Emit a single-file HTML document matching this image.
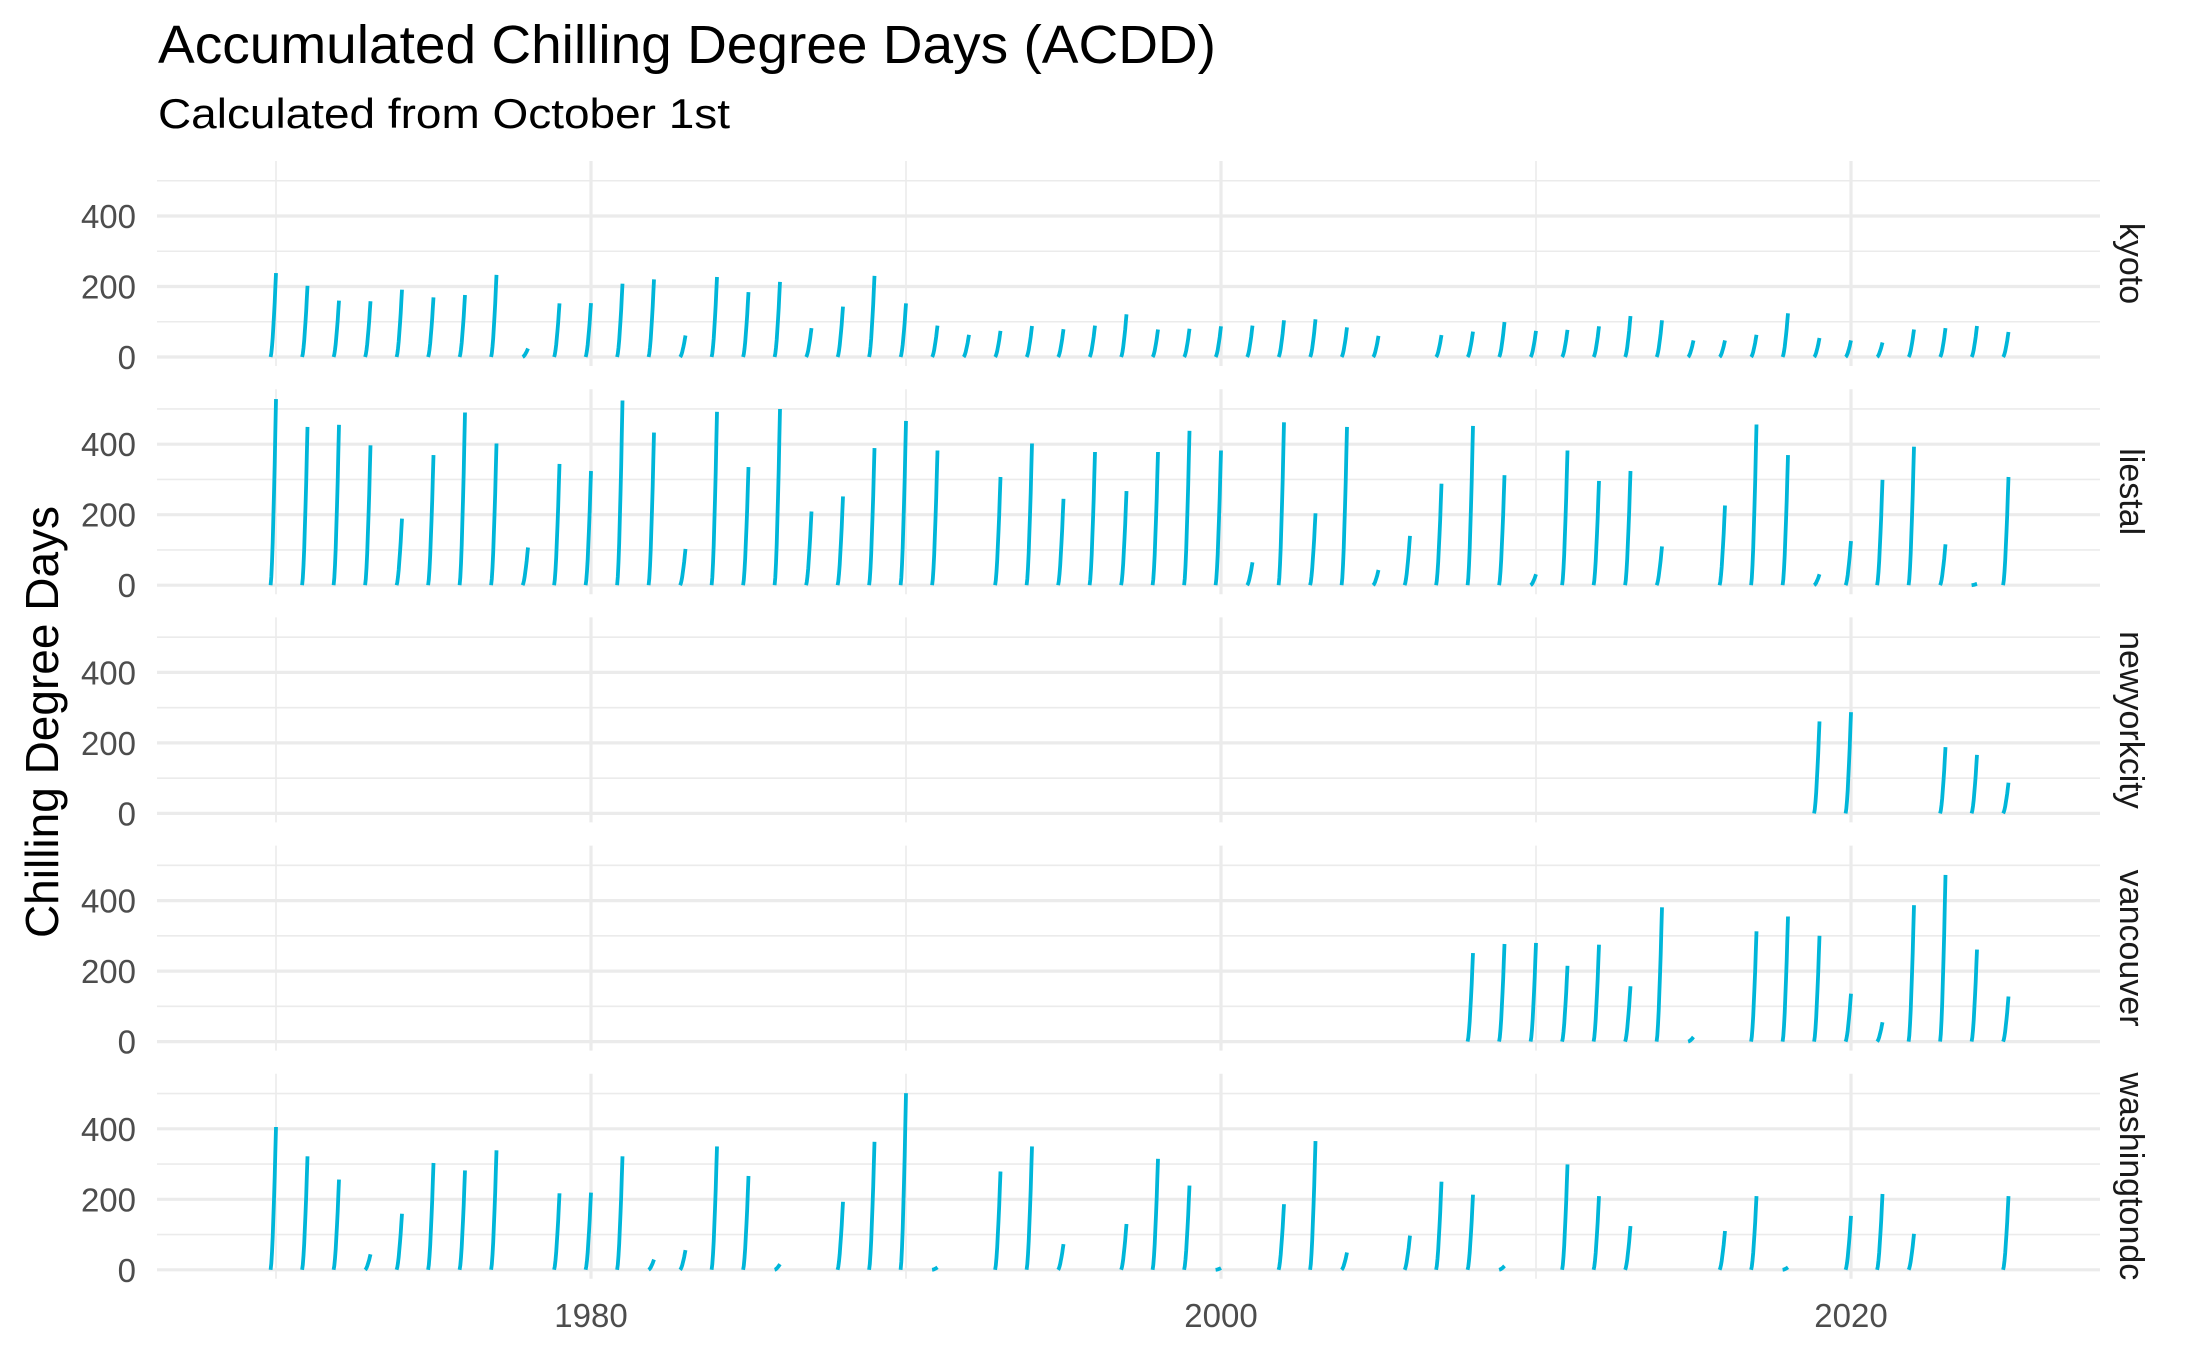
<!DOCTYPE html>
<html><head><meta charset="utf-8"><style>
html,body{margin:0;padding:0;background:#fff;}
svg{display:block;font-family:"Liberation Sans",Arial,sans-serif;}
</style></head><body>
<svg id="chart" width="2193" height="1356" viewBox="0 0 2193 1356" xmlns="http://www.w3.org/2000/svg">
<text x="158" y="63" font-size="54" textLength="1058" lengthAdjust="spacingAndGlyphs" fill="#000">Accumulated Chilling Degree Days (ACDD)</text>
<text x="158" y="128" font-size="42" textLength="572" lengthAdjust="spacingAndGlyphs" fill="#000">Calculated from October 1st</text>
<text transform="translate(58,722) rotate(-90)" text-anchor="middle" font-size="46" fill="#000">Chilling Degree Days</text>
<g id="panels"></g>
</svg>
<script>
const cities = ["kyoto","liestal","newyorkcity","vancouver","washingtondc"];
const kyotoYears = [1970,1971,1972,1973,1974,1975,1976,1977,1978,1979,1980,1981,1982,1983,1984,1985,1986,1987,1988,1989,1990,1991,1992,1993,1994,1995,1996,1997,1998,1999,2000,2001,2002,2003,2004,2005,2007,2008,2009,2010,2011,2012,2013,2014,2015,2016,2017,2018,2019,2020,2021,2022,2023,2024,2025];
const kyotoValues = [238,202,160,158,191,169,176,233,24,152,153,208,220,61,227,184,213,82,143,230,152,89,63,74,88,79,89,121,78,80,87,89,104,107,84,60,62,72,99,74,77,87,116,104,47,47,63,124,54,47,41,78,82,88,71];
const liestalYears = [1970,1971,1972,1973,1974,1975,1976,1977,1978,1979,1980,1981,1982,1983,1984,1985,1986,1987,1988,1989,1990,1991,1993,1994,1995,1996,1997,1998,1999,2000,2001,2002,2003,2004,2005,2006,2007,2008,2009,2010,2011,2012,2013,2014,2016,2017,2018,2019,2020,2021,2022,2023,2024,2025];
const liestalValues = [528,449,455,397,189,369,490,402,107,344,324,524,433,103,492,335,500,209,252,389,466,382,307,402,245,378,267,378,438,382,65,462,204,449,43,140,288,452,312,31,382,296,324,110,226,456,369,31,125,299,393,116,4,307];
const nycYears = [2019,2020,2023,2024,2025];
const nycValues = [261,287,188,166,87];
const vanYears = [2008,2009,2010,2011,2012,2013,2014,2015,2017,2018,2019,2020,2021,2022,2023,2024,2025];
const vanValues = [251,277,280,215,275,157,381,13,313,355,300,136,55,387,473,261,128];
const dcYears = [1970,1971,1972,1973,1974,1975,1976,1977,1979,1980,1981,1982,1983,1984,1985,1986,1988,1989,1990,1991,1993,1994,1995,1997,1998,1999,2000,2002,2003,2004,2006,2007,2008,2009,2011,2012,2013,2016,2017,2018,2020,2021,2022,2025];
const dcValues = [405,322,256,44,159,303,282,339,217,219,322,29,56,350,266,16,193,363,501,7,279,350,73,130,315,239,5,186,365,49,97,250,213,11,299,209,124,110,209,7,153,215,102,209];
const yTicks = [0,200,400];
const yMinor = [100,300,500];
const xTicks = [1980,2000,2020];
const xMinor = [1970,1990,2010];

const NS="http://www.w3.org/2000/svg";
const svg=document.getElementById('chart');
const g=document.getElementById('panels');
const xs=yr=>276+(yr-1970)*31.5;
const PL=157, PR=2100;
function mk(tag,attrs){const e=document.createElementNS(NS,tag);for(const k in attrs)e.setAttribute(k,attrs[k]);return e;}
const defs=mk('defs',{});svg.insertBefore(defs,svg.firstChild);
const series=[[kyotoYears,kyotoValues],[liestalYears,liestalValues],[nycYears,nycValues],[vanYears,vanValues],[dcYears,dcValues]];
cities.forEach((city,i)=>{
  const zero=357+228.2*i;
  const ys=v=>zero-v*0.3525;
  const top=zero-196, bot=zero+9;
  const cp=mk('clipPath',{id:'clip'+i});
  cp.appendChild(mk('rect',{x:0,y:top-20,width:2146,height:bot-top+40}));
  defs.appendChild(cp);
  const pg=mk('g',{'clip-path':'url(#clip'+i+')'});
  
  
  g.appendChild(pg);
  yMinor.forEach(v=>{const l=mk('line',{x1:PL,x2:PR,y1:ys(v),y2:ys(v),stroke:'#ebebeb','stroke-width':1.6});
    
    
    pg.appendChild(l);});
  xMinor.forEach(v=>{const l=mk('line',{x1:xs(v),x2:xs(v),y1:top,y2:bot,stroke:'#ebebeb','stroke-width':1.6});
    
    
    pg.appendChild(l);});
  yTicks.forEach(v=>{const l=mk('line',{x1:PL,x2:PR,y1:ys(v),y2:ys(v),stroke:'#ebebeb','stroke-width':3.2});
    
    
    pg.appendChild(l);
    const t=mk('text',{x:136,y:ys(v)+12,'text-anchor':'end','font-size':33,fill:'#4d4d4d'});
    t.textContent=v;
    
    
    pg.appendChild(t);});
  xTicks.forEach(v=>{const l=mk('line',{x1:xs(v),x2:xs(v),y1:top,y2:bot,stroke:'#ebebeb','stroke-width':3.2});
    
    
    pg.appendChild(l);});
  const [yrs,vals]=series[i];
  yrs.forEach((yr,j)=>{
    const pk=vals[j];
    let d='';
    for(let k=0;k<=8;k++){const f=k/8;const x=xs(yr-0.17+0.17*f);const y=ys(pk*Math.pow(f,1.5));d+=(k?'L':'M')+x.toFixed(1)+','+y.toFixed(1);}
    const p=mk('path',{d:d,fill:'none',stroke:'#00b6d9','stroke-width':3.8,'stroke-linejoin':'round'});
    
    
    pg.appendChild(p);
  });
  const st=mk('text',{transform:`translate(2120,${(top+bot)/2}) rotate(90)`,'text-anchor':'middle','font-size':34,fill:'#1a1a1a'});
  st.textContent=city;
  
  
  pg.appendChild(st);
});
xTicks.forEach(v=>{const t=mk('text',{x:xs(v),y:1327,'text-anchor':'middle','font-size':33,fill:'#4d4d4d'});
  t.textContent=v;
  
  
  g.appendChild(t);});
</script>
</body></html>
